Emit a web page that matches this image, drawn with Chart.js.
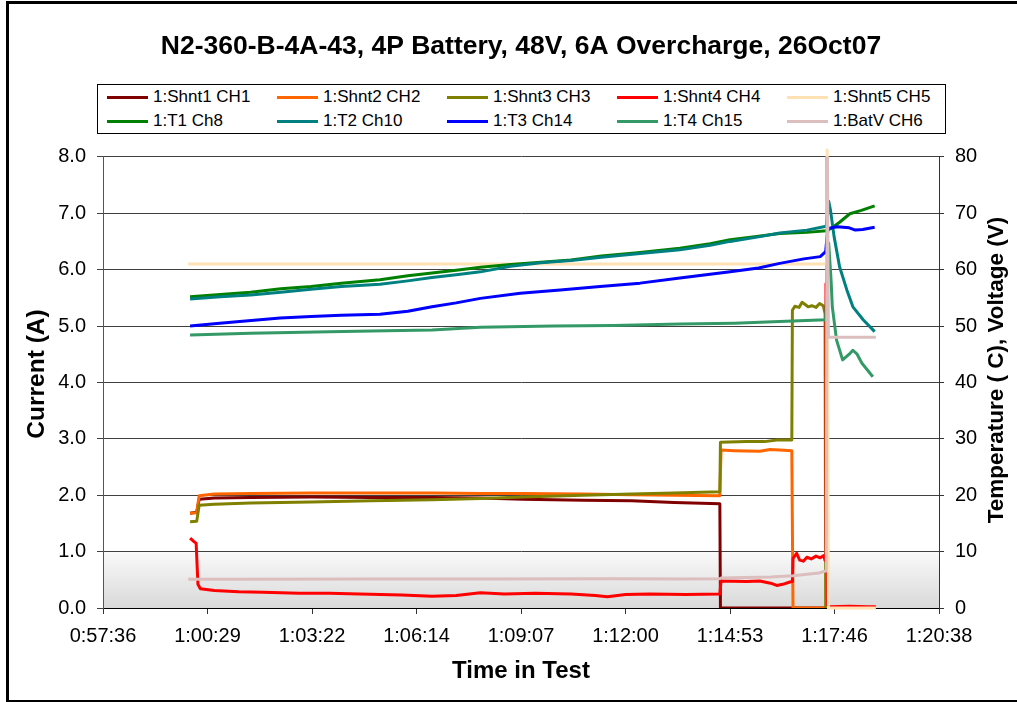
<!DOCTYPE html>
<html>
<head>
<meta charset="utf-8">
<script src="https://cdn.jsdelivr.net/npm/chart.js@4.4.1/dist/chart.umd.min.js"></script>
<style>
	body { margin: 0; background: #fff; overflow: hidden; }
	#wrap { position: relative; width: 1017px; height: 702px; }
	#frame { position: absolute; left: 6px; top: 1px; width: 1030px; height: 696px; border: 3px solid #000; pointer-events: none; }
	#legend {
		position: absolute; left: 97px; top: 84px; width: 849px; height: 50px;
		box-sizing: border-box; border: 1px solid #000; padding-left: 9px;
		display: grid; grid-template-columns: repeat(5, 170px); grid-template-rows: 24px 24px;
		font-family: "Liberation Sans", Arial, sans-serif; font-size: 17px; color: #000; background: #fff;
	}
	.item { display: flex; align-items: center; white-space: nowrap; }
	.swatch { width: 41px; height: 3px; margin-right: 5px; }
</style>
</head>
<body>
<div id="wrap">
	<canvas id="batteryChart" width="1017" height="702"></canvas>
	<div id="legend"></div>
	<div id="frame"></div>
</div>
<script>
"use strict";

// time ticks (seconds into test)
var timeTicks = [3456, 3628.8, 3801.6, 3974.4, 4147.2, 4320, 4492.8, 4665.6, 4838.4];

// shunt currents (A) as [seconds, value]
var shnt1 = [[3600, 1.68], [3611, 1.70], [3615, 1.93], [3640, 1.95], [3700, 1.96], [3800, 1.97], [3900, 1.96], [4000, 1.96],
	[4080, 1.95], [4150, 1.93], [4250, 1.91], [4330, 1.90], [4400, 1.87], [4476, 1.85], [4477, 0], [4656, 0]];
var shnt2 = [[3600, 1.68], [3611, 1.69], [3615, 1.99], [3640, 2.02], [3700, 2.03], [3800, 2.04], [3900, 2.04], [4000, 2.04],
	[4080, 2.03], [4150, 2.03], [4250, 2.02], [4330, 2.01], [4400, 2.00], [4476, 1.99], [4478, 2.80], [4500, 2.79],
	[4542, 2.78], [4559, 2.81], [4575, 2.80], [4595, 2.79], [4597, 0], [4652, 0], [4652.8, 8.1], [4654, 0]];
var shnt3 = [[3600, 1.53], [3611, 1.54], [3615, 1.82], [3640, 1.84], [3700, 1.86], [3800, 1.88], [3900, 1.90], [4000, 1.92],
	[4080, 1.94], [4150, 1.97], [4250, 2.00], [4330, 2.02], [4400, 2.04], [4476, 2.06], [4477, 2.94], [4520, 2.95],
	[4550, 2.95], [4570, 2.98], [4595, 2.98], [4596, 5.28], [4600, 5.35], [4607, 5.33], [4612, 5.42], [4617, 5.38],
	[4622, 5.34], [4628, 5.36], [4635, 5.33], [4641, 5.40], [4647, 5.36], [4650, 5.22], [4651, 0], [4656, 0]];
var shnt4 = [[3600, 1.24], [3606, 1.18], [3610, 1.15], [3613, 0.42], [3617, 0.34], [3640, 0.31], [3680, 0.29], [3720, 0.28],
	[3780, 0.26], [3830, 0.26], [3880, 0.25], [3950, 0.23], [4000, 0.21], [4040, 0.22], [4080, 0.27], [4120, 0.25],
	[4170, 0.26], [4230, 0.25], [4270, 0.22], [4290, 0.20], [4320, 0.24], [4360, 0.25], [4420, 0.24], [4476, 0.25],
	[4478, 0.48], [4520, 0.47], [4542, 0.48], [4560, 0.44], [4570, 0.40], [4580, 0.42], [4592, 0.46], [4596, 0.47],
	[4597, 0.88], [4603, 0.97], [4608, 0.85], [4614, 0.83], [4620, 0.90], [4627, 0.87], [4635, 0.92], [4642, 0.89],
	[4648, 0.93], [4650, 0.84], [4651.5, 5.75], [4654, 0.05], [4658, 0.02], [4690, 0.03], [4720, 0.02], [4734, 0.02]];
var shnt5 = [[3597, 6.1], [3800, 6.1], [4100, 6.1], [4400, 6.1], [4652.5, 6.1], [4653.5, 8.12], [4655.5, 0], [4734, 0]];

// temperatures (C) and battery voltage (V)
var t1 = [[3600, 55.2], [3650, 55.6], [3700, 56.0], [3750, 56.6], [3800, 57.0], [3850, 57.6], [3914, 58.2], [3960, 58.9],
	[4000, 59.4], [4040, 59.9], [4080, 60.4], [4130, 60.9], [4180, 61.3], [4230, 61.7], [4280, 62.4], [4340, 63.0],
	[4410, 63.8], [4460, 64.6], [4493, 65.3], [4540, 65.9], [4575, 66.4], [4620, 66.6], [4652, 66.9], [4660, 67.3],
	[4674, 68.4], [4691, 69.9], [4710, 70.5], [4732, 71.3]];
var t2 = [[3600, 54.8], [3650, 55.2], [3700, 55.5], [3750, 56.0], [3800, 56.5], [3850, 57.0], [3914, 57.4], [3960, 58.0],
	[4000, 58.6], [4040, 59.1], [4080, 59.6], [4130, 60.6], [4180, 61.2], [4230, 61.6], [4280, 62.2], [4340, 62.8],
	[4410, 63.5], [4460, 64.3], [4493, 65.0], [4540, 65.8], [4575, 66.5], [4620, 67.0], [4652, 67.7], [4656, 72.1],
	[4659, 70.5], [4665, 65.8], [4674, 60.5], [4686, 56.4], [4696, 53.4], [4713, 51.1], [4732, 49.0]];
var t3 = [[3600, 50.0], [3640, 50.4], [3682, 50.8], [3749, 51.4], [3800, 51.7], [3850, 51.9], [3914, 52.1], [3960, 52.6],
	[4000, 53.4], [4040, 54.1], [4080, 54.9], [4146, 55.8], [4212, 56.4], [4278, 57.0], [4344, 57.6], [4410, 58.5],
	[4493, 59.6], [4540, 60.3], [4575, 61.1], [4615, 61.9], [4642, 62.3], [4651, 63.2], [4653, 65.5], [4655, 67.3],
	[4670, 67.6], [4690, 67.4], [4700, 67.0], [4712, 67.1], [4732, 67.5]];
var t4 = [[3600, 48.4], [3700, 48.7], [3830, 49.0], [3900, 49.1], [4000, 49.3], [4080, 49.8], [4200, 50.0], [4300, 50.1],
	[4410, 50.35], [4500, 50.5], [4575, 50.8], [4651, 51.1], [4653, 57.0], [4656, 64.7], [4660, 58.0], [4662, 53.4],
	[4669, 47.5], [4679, 44.0], [4690, 45.0], [4696, 45.7], [4703, 45.0], [4711, 43.4], [4729, 41.0]];
var batV = [[3597, 5.1], [3700, 5.1], [3900, 5.15], [4100, 5.15], [4300, 5.2], [4410, 5.15], [4476, 5.2], [4478, 5.3],
	[4560, 5.5], [4597, 5.7], [4640, 6.2], [4652, 6.6], [4653.5, 90], [4655.5, 48], [4734, 48]];

var seriesList = [
	{ label: "1:Shnt1 CH1", data: shnt1, color: "#800000", axis: "y" },
	{ label: "1:Shnt2 CH2", data: shnt2, color: "#FF6600", axis: "y" },
	{ label: "1:Shnt3 CH3", data: shnt3, color: "#808000", axis: "y" },
	{ label: "1:Shnt4 CH4", data: shnt4, color: "#FF0000", axis: "y" },
	{ label: "1:Shnt5 CH5", data: shnt5, color: "#FFE1B4", axis: "y", noClip: true },
	{ label: "1:T1 Ch8", data: t1, color: "#008000", axis: "y2" },
	{ label: "1:T2 Ch10", data: t2, color: "#008080", axis: "y2" },
	{ label: "1:T3 Ch14", data: t3, color: "#0000FF", axis: "y2" },
	{ label: "1:T4 Ch15", data: t4, color: "#339966", axis: "y2" },
	{ label: "1:BatV CH6", data: batV, color: "#DCBEBE", axis: "y2" },
];

var FONT = "'Liberation Sans', Arial, sans-serif";

function hms(sec) {
	var s = Math.round(sec);
	var h = Math.floor(s / 3600);
	var m = Math.floor((s % 3600) / 60);
	var r = s % 60;
	return h + ":" + String(m).padStart(2, "0") + ":" + String(r).padStart(2, "0");
}

// plot area background: white fading to grey at the bottom
var plotBackground = {
	id: "plotBackground",
	beforeDraw: function (chart) {
		var a = chart.chartArea;
		var ctx = chart.ctx;
		var g = ctx.createLinearGradient(0, a.top, 0, a.bottom);
		g.addColorStop(0, "#ffffff");
		g.addColorStop(0.87, "#ffffff");
		g.addColorStop(0.88, "#f8f8f8");
		g.addColorStop(1, "#d9d9d9");
		ctx.save();
		ctx.fillStyle = g;
		ctx.fillRect(a.left, a.top, a.right - a.left, a.bottom - a.top);
		ctx.restore();
	},
};

// both vertical axis titles read bottom to top
function drawSideTitle(ctx, text, x, y, size) {
	ctx.save();
	ctx.fillStyle = "#000";
	ctx.font = "bold " + size + "px " + FONT;
	ctx.textAlign = "center";
	ctx.textBaseline = "middle";
	ctx.translate(x, y);
	ctx.rotate(-Math.PI / 2);
	ctx.fillText(text, 0, 0);
	ctx.restore();
}

var sideTitles = {
	id: "sideTitles",
	afterDraw: function (chart) {
		drawSideTitle(chart.ctx, "Current (A)", 37, 374, 24.5);
		drawSideTitle(chart.ctx, "Temperature ( C), Voltage (V)", 997, 370, 22.5);
	},
};

function initBatteryChart() {
	var el = document.getElementById("batteryChart");
	var n = seriesList.length;
	var datasets = seriesList.map(function (s, i) {
		return {
			label: s.label,
			data: s.data.map(function (p) { return { x: p[0], y: p[1] }; }),
			borderColor: s.color,
			backgroundColor: s.color,
			borderWidth: 3,
			borderJoinStyle: "round",
			pointRadius: 0,
			tension: 0,
			yAxisID: s.axis,
			order: n - i,
			clip: s.noClip ? false : undefined,
		};
	});

	new Chart(el, {
		type: "line",
		data: { datasets: datasets },
		options: {
			responsive: false,
			animation: false,
			layout: { padding: 0 },
			scales: {
				x: {
					type: "linear",
					min: timeTicks[0],
					max: timeTicks[timeTicks.length - 1],
					afterBuildTicks: function (scale) {
						scale.ticks = timeTicks.map(function (v) { return { value: v }; });
					},
					afterFit: function (scale) { scale.height = 94; },
					grid: { drawOnChartArea: false, tickLength: 6, color: "#333" },
					border: { color: "#000" },
					ticks: {
						autoSkip: false,
						maxRotation: 0,
						padding: 10,
						color: "#000",
						font: { family: FONT, size: 20 },
						callback: function (v) { return hms(v); },
					},
					title: {
						display: true,
						text: "Time in Test",
						color: "#000",
						font: { family: FONT, size: 24, weight: "bold" },
						padding: { top: 0, bottom: 16 },
					},
				},
				y: {
					position: "left",
					min: 0,
					max: 8,
					afterFit: function (scale) { scale.width = 103; },
					grid: { color: "#404040", tickLength: 6 },
					border: { color: "#555" },
					ticks: {
						stepSize: 1,
						padding: 11,
						color: "#000",
						font: { family: FONT, size: 20 },
						callback: function (v) { return v.toFixed(1); },
					},
				},
				y2: {
					position: "right",
					min: 0,
					max: 80,
					afterFit: function (scale) { scale.width = 78; },
					grid: { drawOnChartArea: false, tickLength: 5, color: "#333" },
					border: { color: "#333" },
					ticks: {
						stepSize: 10,
						padding: 11,
						color: "#000",
						font: { family: FONT, size: 20 },
					},
				},
			},
			plugins: {
				legend: { display: false },
				tooltip: { enabled: false },
				title: {
					display: true,
					fullSize: false,
					text: "N2-360-B-4A-43, 4P Battery, 48V, 6A Overcharge, 26Oct07",
					color: "#000",
					font: { family: FONT, size: 26.5, weight: "bold" },
					padding: { top: 31, bottom: 94 },
				},
			},
		},
		plugins: [plotBackground, sideTitles],
	});
}

// legend box laid out as a 5 x 2 grid
function buildLegend() {
	var box = document.getElementById("legend");
	seriesList.forEach(function (s) {
		var item = document.createElement("div");
		item.className = "item";
		var sw = document.createElement("span");
		sw.className = "swatch";
		sw.style.background = s.color;
		var txt = document.createElement("span");
		txt.textContent = s.label;
		item.appendChild(sw);
		item.appendChild(txt);
		box.appendChild(item);
	});
}

(function () {
	initBatteryChart();
	buildLegend();
})();
</script>
</body>
</html>
